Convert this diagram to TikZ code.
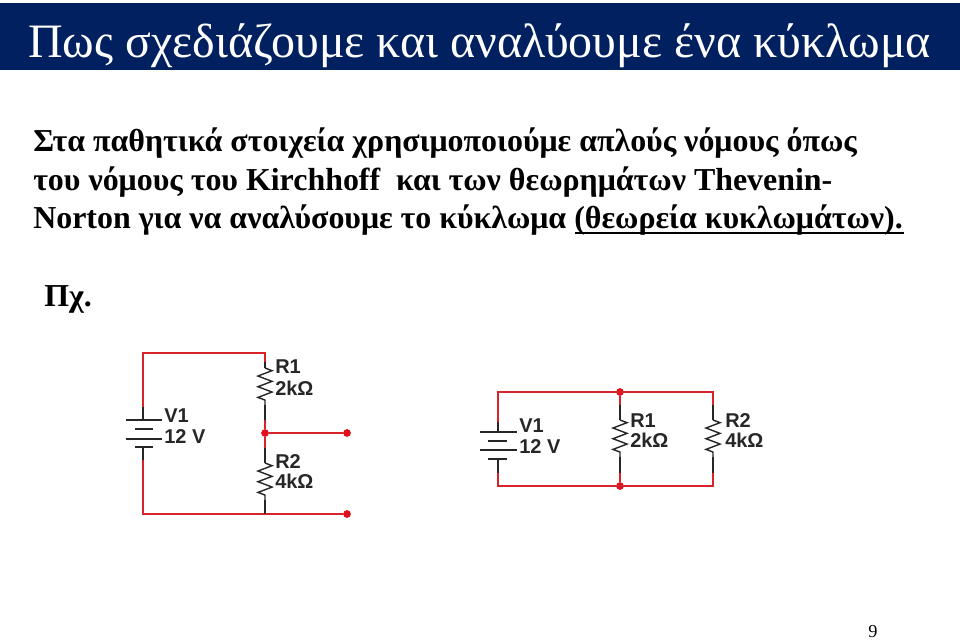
\documentclass[tikz,border=0pt]{standalone}
\usepackage{fontspec}
\setmainfont{Liberation Serif}
\newfontfamily\labelfont{Liberation Sans}
\usetikzlibrary{decorations.pathmorphing}
\definecolor{TitleBlue}{HTML}{002060}
\definecolor{WireRed}{HTML}{D8232A}
\definecolor{DotRed}{HTML}{E0101C}
\tikzset{
    wire/.style={WireRed, line width=1.4pt},
    lead/.style={black!85, line width=1pt},
    plate/.style={black!85, line width=1.1pt},
    resistor/.style={black!85, line width=1pt, decorate, decoration={zigzag, segment length=7.6pt, amplitude=5pt}},
    junction/.style={circle, fill=DotRed, inner sep=0pt, minimum size=5.5pt},
    partlabel/.style={anchor=base west, inner sep=0pt, font=\labelfont\bfseries\fontsize{14.2}{15}\selectfont, text=black!85},
    bodyline/.style={anchor=base west, inner sep=0pt, font=\bfseries\fontsize{22.7}{26}\selectfont}
}
\begin{document}
\begin{tikzpicture}[x=0.025cm, y=-0.025cm]
    \useasboundingbox (0, 0) rectangle (960, 640);
    % Title
    \fill[TitleBlue] (0, 3) rectangle (960, 70);
    \node[anchor=base west, inner sep=0pt, text=white, font=\fontsize{34.1}{38}\selectfont] (title) at (28, 57) {Πως σχεδιάζουμε και αναλύουμε ένα κύκλωμα};

    % Text
    \node[bodyline] (lineone) at (33, 151) {Στα παθητικά στοιχεία χρησιμοποιούμε απλούς νόμους όπως};
    \node[bodyline] (linetwo) at (33, 190) {του νόμους του Kirchhoff\ \ και των θεωρημάτων Thevenin-};
    \node[bodyline] (linethree) at (33, 228) {Norton για να αναλύσουμε το κύκλωμα (θεωρεία κυκλωμάτων).};
    \node[bodyline] (example) at (44, 306) {Πχ.};
    \coordinate (ulstart) at (575, 233);
    \coordinate (ulend) at (904, 233);
    \draw[line width=1.5pt] (ulstart) -- (ulend);

    % Series circuit
    \coordinate (sa) at (143, 353);
    \coordinate (sb) at (265, 353);
    \coordinate (sc) at (143, 514);
    \coordinate (sd) at (265, 514);
    \node[junction] (smid) at (265, 433) {};
    \node[junction] (sout) at (347, 433) {};
    \node[junction] (sgnd) at (347, 514) {};
    \draw[wire] (143, 407) -- (sa) -- (sb) -- (265, 362);
    \draw[wire] (265, 420) -- (smid) -- (265, 448);
    \draw[wire] (smid) -- (sout);
    \draw[wire] (143, 460) -- (sc) -- (sd) -- (sgnd);
    % Battery
    \draw[lead] (143, 407) -- (143, 420);
    \draw[lead] (143, 447) -- (143, 460);
    \draw[plate] (126, 420) -- (162, 420);
    \draw[plate] (135, 429) -- (153, 429);
    \draw[plate] (126, 439) -- (162, 439);
    \draw[plate] (135, 447) -- (153, 447);
    \node[partlabel] (svone) at (164, 422) {V1};
    \node[partlabel] (svval) at (164, 443) {12 V};
    % Resistors
    \draw[lead] (265, 362) -- (265, 368);
    \draw[resistor] (265, 368) -- (265, 405);
    \draw[lead] (265, 405) -- (265, 420);
    \draw[lead] (265, 448) -- (265, 463);
    \draw[resistor] (265, 463) -- (265, 500);
    \draw[lead] (265, 500) -- (sd);
    \node[partlabel] (srone) at (275, 373) {R1};
    \node[partlabel] (srval) at (275, 395) {2kΩ};
    \node[partlabel] (srtwo) at (275, 468) {R2};
    \node[partlabel] (srfour) at (275, 488) {4kΩ};

    % Parallel circuit
    \coordinate (pa) at (498, 392);
    \coordinate (pb) at (713, 392);
    \coordinate (pc) at (498, 486);
    \coordinate (pd) at (713, 486);
    \node[junction] (ptop) at (620, 392) {};
    \node[junction] (pbot) at (620, 486) {};
    \draw[wire] (498, 422) -- (pa) -- (pb) -- (713, 405);
    \draw[wire] (498, 473) -- (pc) -- (pd) -- (713, 473);
    \draw[wire] (ptop) -- (620, 405);
    \draw[wire] (pbot) -- (620, 473);
    % Battery
    \draw[lead] (498, 422) -- (498, 432);
    \draw[lead] (498, 459) -- (498, 473);
    \draw[plate] (480, 432) -- (517, 432);
    \draw[plate] (488, 441) -- (507, 441);
    \draw[plate] (480, 450) -- (517, 450);
    \draw[plate] (488, 459) -- (507, 459);
    \node[partlabel] (pvone) at (519, 432) {V1};
    \node[partlabel] (pvval) at (519, 453) {12 V};
    % Resistors
    \draw[lead] (620, 405) -- (620, 420);
    \draw[resistor] (620, 420) -- (620, 457);
    \draw[lead] (620, 457) -- (620, 473);
    \draw[lead] (713, 405) -- (713, 420);
    \draw[resistor] (713, 420) -- (713, 457);
    \draw[lead] (713, 457) -- (713, 473);
    \node[partlabel] (prone) at (630, 427) {R1};
    \node[partlabel] (prval) at (630, 447) {2kΩ};
    \node[partlabel] (prtwo) at (725, 427) {R2};
    \node[partlabel] (prfour) at (725, 447) {4kΩ};

    % Page number
    \node[anchor=base, inner sep=0pt, font=\fontsize{13}{14}\selectfont] (pagenum) at (873, 637) {9};
\end{tikzpicture}
\end{document}
